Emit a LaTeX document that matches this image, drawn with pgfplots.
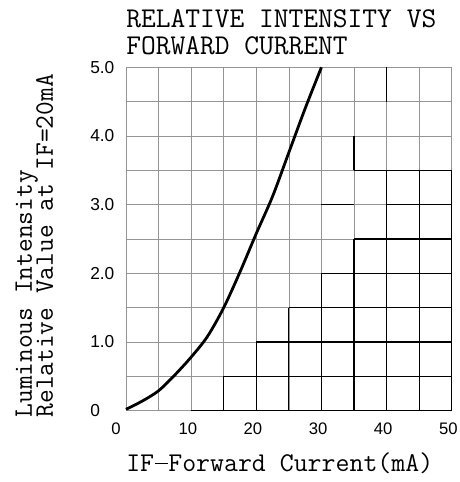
\documentclass[border=0pt]{standalone}
\usepackage{fontspec}
\setsansfont{Liberation Sans}
\usepackage{pgfplots}
\pgfplotsset{compat=1.18}
\begin{document}
\begin{tikzpicture}
\path[use as bounding box] (-94.5pt,-53.5pt) rectangle (250.5pt,308pt);
\begin{axis}[
  at={(0,0)}, anchor=south west,
  scale only axis, width=244.3pt, height=257.55pt,
  xmin=0, xmax=50, ymin=0, ymax=5,
  xtick={10,20,30,40,50}, xticklabels={10,20,30,40,50},
  minor xtick={5,15,...,45},
  extra x ticks={0}, extra x tick labels={0},
  extra x tick style={xticklabel style={xshift=-5pt}},
  ytick={0,1,2,3,4,5}, yticklabels={0,1.0,2.0,3.0,4.0,5.0},
  minor ytick={0.5,1.5,...,4.5},
  grid=both,
  grid style={black!42, line width=0.45pt},
  minor grid style={black!42, line width=0.45pt},
  major tick length=0pt, minor tick length=0pt,
  axis line style={black!42, line width=0.45pt},
  /pgf/number format/assume math mode=true,
  xticklabel style={font=\sffamily\fontsize{12.5}{12.5}\selectfont, anchor=base, inner sep=0pt, yshift=-18.2pt, xshift=-2.5pt},
  yticklabel style={font=\sffamily\fontsize{13}{13}\selectfont, anchor=west, inner sep=0pt, xshift=-27pt},
  clip=false,
]
% black staircase grid
\draw[black, line width=0.8pt] (axis cs:10,0) -- (axis cs:50,0);
\draw[black, line width=0.8pt] (axis cs:15,0.5) -- (axis cs:50,0.5);
\draw[black, line width=0.8pt] (axis cs:20,1) -- (axis cs:50,1);
\draw[black, line width=0.8pt] (axis cs:25,1.5) -- (axis cs:50,1.5);
\draw[black, line width=0.8pt] (axis cs:30,2) -- (axis cs:50,2);
\draw[black, line width=0.8pt] (axis cs:35,2.5) -- (axis cs:50,2.5);
\draw[black, line width=0.8pt] (axis cs:30,3) -- (axis cs:35,3);
\draw[black, line width=0.8pt] (axis cs:40,3) -- (axis cs:50,3);
\draw[black, line width=0.8pt] (axis cs:35,3.5) -- (axis cs:50,3.5);
\draw[black, line width=0.8pt] (axis cs:15,0) -- (axis cs:15,0.5);
\draw[black, line width=0.8pt] (axis cs:20,0) -- (axis cs:20,1);
\draw[black, line width=0.8pt] (axis cs:25,0) -- (axis cs:25,1.5);
\draw[black, line width=0.8pt] (axis cs:30,0) -- (axis cs:30,2);
\draw[black, line width=0.8pt] (axis cs:35,0) -- (axis cs:35,2.5);
\draw[black, line width=0.8pt] (axis cs:35,3.5) -- (axis cs:35,4);
\draw[black, line width=0.8pt] (axis cs:40,0) -- (axis cs:40,3.5);
\draw[black, line width=0.8pt] (axis cs:40,4.5) -- (axis cs:40,5);
\draw[black, line width=0.8pt] (axis cs:45,0) -- (axis cs:45,3.5);
\draw[black, line width=0.8pt] (axis cs:50,0) -- (axis cs:50,3.5);
\addplot[black, line width=2.1pt, smooth] coordinates {
 (0,0.02) (2.5,0.14) (5,0.29) (7.5,0.52) (10,0.78) (12.5,1.08) (15,1.5)
 (17.5,2.02) (20,2.58) (22.5,3.12) (25,3.76) (27.5,4.4) (30,5.0)
};
\end{axis}
\node[anchor=base west, inner sep=0pt, font=\ttfamily\fontsize{21.5}{21.5}\selectfont] at (0pt,287pt) {RELATIVE INTENSITY VS};
\node[anchor=base west, inner sep=0pt, font=\ttfamily\fontsize{21.5}{21.5}\selectfont] at (0pt,266.8pt) {FORWARD CURRENT};
\node[anchor=base west, inner sep=0pt, font=\ttfamily\fontsize{20.3}{20.3}\selectfont] at (0pt,-45.8pt) {IF\makebox[0.525em]{\rule[0.27em]{0.48em}{0.045em}}Forward\ Current(mA)};
\node[rotate=90, anchor=base west, inner sep=0pt, font=\ttfamily\fontsize{20}{20}\selectfont] at (-70.5pt,-5.25pt) {Luminous Intensity};
\node[rotate=90, anchor=base west, inner sep=0pt, font=\ttfamily\fontsize{20}{20}\selectfont] at (-54.75pt,-5.25pt) {Relative Value at IF=20mA};
\end{tikzpicture}
\end{document}
